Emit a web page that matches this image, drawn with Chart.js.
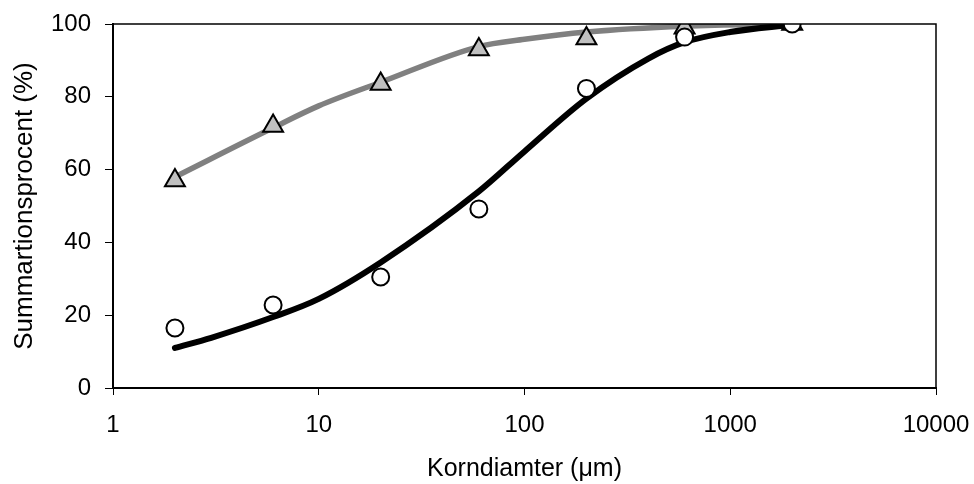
<!DOCTYPE html>
<html lang="en">
<head>
  <title>Korndiameter</title>
  <meta charset="utf-8">
  <script src="https://cdn.jsdelivr.net/npm/chart.js@4.4.1/dist/chart.umd.min.js"></script>
  <style>
    body {margin: 0; background: #fff;}
    #wrap {width: 974px; height: 484px;}
  </style>
</head>
<body>
<div id="wrap"><canvas id="chart"></canvas></div>

<script>
  // measured points
  let sizes = [2, 6, 20, 60, 200, 600, 2000]
  let circleValues = [16.5, 22.8, 30.5, 49.2, 82.3, 96.4, 100]
  let triangleValues = [57, 72, 83.5, 93, 96, 99, 100]

  // fitted curves
  let grayFitX = [2, 6, 10, 20, 60, 100, 200, 600, 2000]
  let grayFitY = [58, 71.5, 77.5, 84, 93.8, 95.8, 97.8, 99.4, 100]
  let blackFitX = [2, 3, 6, 10, 20, 60, 100, 200, 400, 600, 1000, 2000]
  let blackFitY = [11, 13.8, 19.5, 24.5, 34.5, 54, 65, 79.5, 90.5, 95, 97.8, 99.8]

  let xTicks = [1, 10, 100, 1000, 10000]

  function pairs(xs, ys) {
    return xs.map((x, i) => ({x: x, y: ys[i]}))
  }

  const font = "'Liberation Sans', Arial, sans-serif"

  const frame = {
    id: 'frame',
    afterDatasetsDraw(chart) {
      const a = chart.chartArea
      const ctx = chart.ctx
      ctx.save()
      ctx.strokeStyle = '#000'
      ctx.lineWidth = 1.5
      ctx.beginPath()
      ctx.moveTo(a.left, a.top)
      ctx.lineTo(a.right, a.top)
      ctx.lineTo(a.right, a.bottom)
      ctx.stroke()
      ctx.restore()
    }
  }

  new Chart('chart', {
    type: 'scatter',
    data: {
      datasets: [
        {
          data: pairs(sizes, circleValues),
          pointStyle: 'circle',
          pointRadius: 8.5,
          pointBorderWidth: 2,
          pointBackgroundColor: '#fff',
          pointBorderColor: '#000',
          showLine: false
        },
        {
          data: pairs(sizes, triangleValues),
          pointStyle: 'triangle',
          pointRadius: 11.5,
          pointBorderWidth: 2,
          pointBackgroundColor: '#c0c0c0',
          pointBorderColor: '#000',
          showLine: false
        },
        {
          data: pairs(blackFitX, blackFitY),
          showLine: true,
          borderColor: '#000',
          borderWidth: 6,
          borderCapStyle: 'round',
          cubicInterpolationMode: 'monotone',
          pointRadius: 0
        },
        {
          data: pairs(grayFitX, grayFitY),
          showLine: true,
          borderColor: '#808080',
          borderWidth: 5.5,
          borderCapStyle: 'round',
          cubicInterpolationMode: 'monotone',
          pointRadius: 0
        }
      ]
    },
    options: {
      responsive: true,
      maintainAspectRatio: false,
      animation: false,
      layout: {padding: {top: 24, right: 38, left: 0, bottom: 0}},
      plugins: {legend: {display: false}, tooltip: {enabled: false}},
      scales: {
        x: {
          type: 'logarithmic',
          min: 1,
          max: 10000,
          afterBuildTicks: (scale) => { scale.ticks = xTicks.map(v => ({value: v})) },
          afterFit: (scale) => {
            scale.height = 96
            scale.paddingLeft = 0
            scale.paddingRight = 0
          },
          grid: {drawOnChartArea: false, color: '#000', tickLength: 7},
          border: {color: '#000', width: 2},
          ticks: {
            color: '#000',
            font: {family: font, size: 24},
            padding: 16,
            maxRotation: 0,
            callback: (v) => String(v)
          },
          title: {
            display: true,
            text: 'Korndiamter (μm)',
            color: '#000',
            font: {family: font, size: 25},
            padding: {top: 0, bottom: 0}
          }
        },
        y: {
          min: 0,
          max: 100,
          afterFit: (scale) => {
            scale.width = 113
            scale.paddingTop = 0
            scale.paddingBottom = 0
          },
          grid: {drawOnChartArea: false, color: '#000', tickLength: 8},
          border: {color: '#000', width: 2},
          ticks: {
            stepSize: 20,
            color: '#000',
            font: {family: font, size: 24},
            padding: 14
          },
          title: {
            display: true,
            text: 'Summartionsprocent (%)',
            color: '#000',
            font: {family: font, size: 26},
            padding: {top: 9, bottom: 0}
          }
        }
      }
    },
    plugins: [frame]
  })
</script>
</body>
</html>
